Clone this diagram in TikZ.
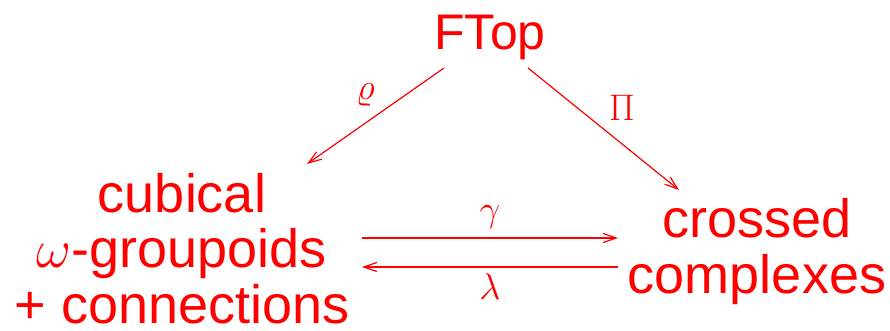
\RequirePackage{fix-cm}
\documentclass[tikz,border=0pt]{standalone}
\usepackage[no-math]{fontspec}
\setmainfont{Liberation Sans}
\usetikzlibrary{arrows.meta,calc}
\begin{document}
\begin{tikzpicture}[x=1pt,y=-1pt,
  lbl/.style={text=red, font=\fontsize{54}{55.5}\selectfont, inner sep=0pt, anchor=base},
  mlbl/.style={text=red, font=\fontsize{37}{40}\selectfont, inner sep=0pt, anchor=base},
  arr/.style={draw=red, line width=1.2pt, -{Straight Barb[length=13pt,width=9pt]}}]
\useasboundingbox (0,0) rectangle (890,331);
\node[lbl, font=\fontsize{50}{55}\selectfont] (ftop) at (490,50) {FTop};
\node[lbl, align=center] (cub) at (182,323) {cubical\\$\omega$-groupoids\\+ connections};
\node[lbl, align=center] (cross) at (757,293) {crossed\\complexes};
\draw[arr] ($(ftop.base)+(-46,18)$) -- node[mlbl, xshift=-10pt, yshift=16pt] (rho) {$\varrho$} ($(cub.base)+(125,-159)$);
\draw[arr] ($(ftop.base)+(38,18)$) -- node[mlbl, xshift=18.5pt, yshift=8pt] (pi) {$\Pi$} ($(cross.base)+(-78,-103)$);
\draw[arr] ($(cub.base)+(180,-85)$) -- node[mlbl, yshift=17pt] (gam) {$\gamma$} ($(cross.base)+(-139,-55)$);
\draw[arr] ($(cross.base)+(-139,-26)$) -- node[mlbl, yshift=-32pt] (lam) {$\lambda$} ($(cub.base)+(180,-56)$);
\end{tikzpicture}
\end{document}
